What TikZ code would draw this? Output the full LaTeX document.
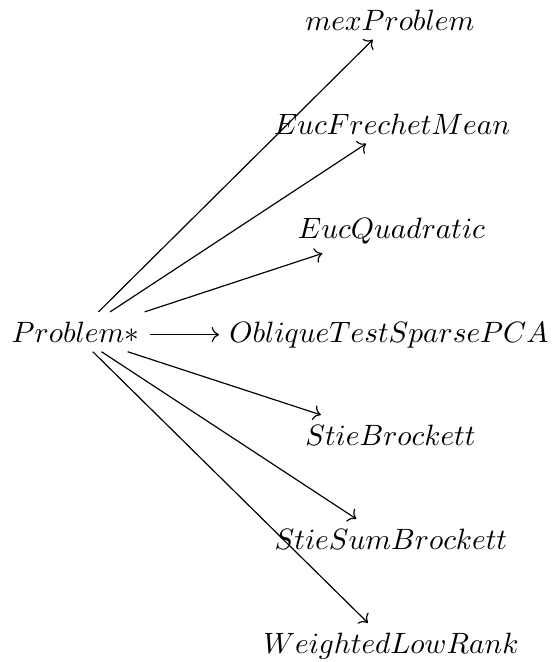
\documentclass[tikz,border=0pt]{standalone}
\usetikzlibrary{cd}
\begin{document}
\begin{tikzpicture}[x=0.34pt,y=-0.34pt,
  lbl/.style={shape=asymmetrical rectangle, anchor=base, inner xsep=0.3333em, inner ysep=0.31em},
  arr/.style={-{tikzcd to}, line width=0.4pt}]
\useasboundingbox (0,0) rectangle (552,662);
\node[lbl] (p) at (75.5,342) {$Problem*$};
\node[lbl] (m) at (390,30) {$mexProblem$};
\node[lbl] (f) at (392,134) {$EucFrechetMean$};
\node[lbl] (q) at (391.5,238) {$EucQuadratic$};
\node[lbl] (o) at (389,342) {$ObliqueTestSparsePCA$};
\node[lbl] (b) at (390.5,445) {$StieBrockett$};
\node[lbl] (s) at (391,549) {$StieSumBrockett$};
\node[lbl] (w) at (391,653) {$WeightedLowRank$};
\draw[arr] (p) -- (m);
\draw[arr] (p) -- (f);
\draw[arr] (p) -- (q);
\draw[arr] (p) -- (o);
\draw[arr] (p) -- (b);
\draw[arr] (p) -- (s);
\draw[arr] (p) -- (w);
\end{tikzpicture}
\end{document}
